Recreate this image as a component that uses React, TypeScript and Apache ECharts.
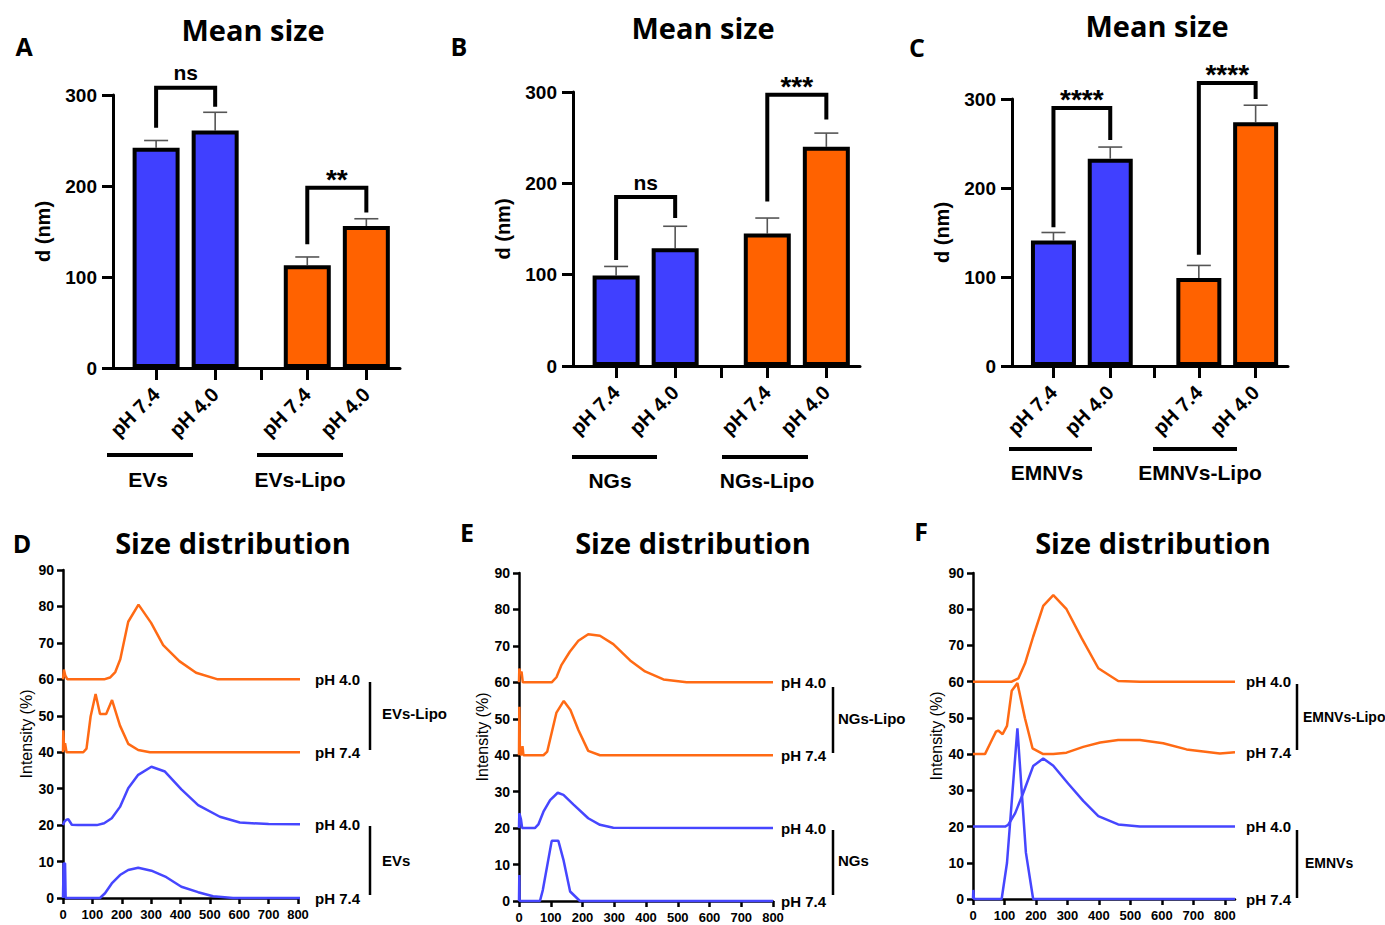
import React, { useEffect, useRef } from 'react';
import * as echarts from 'echarts';

const BLUE = '#4040ff';
const ORANGE = '#ff6200';
const LBLUE = '#4646ff';
const LORANGE = '#ff6a14';
const AX = 'Liberation Sans, Arial, sans-serif';
const TF = 'Open Sans, sans-serif';

// ---- Bar panels (A, B, C) ----
const barLabels = ['pH 7.4', 'pH 4.0', 'pH 7.4', 'pH 4.0'];
const barPos = [0.73, 1.73, 3.29, 4.29];
const sepPos = 2.51;
const barMax = 4.86;

const meanA = [242, 261, 113, 156];
const sdA = [8, 20, 9, 8];
const meanB = [99, 129, 145, 240];
const sdB = [10, 24, 17, 15];
const meanC = [141, 233, 99, 274];
const sdC = [9, 13, 14, 19];

// [fromBar, toBar, top, leftLegEnd, rightLegEnd]
const sigA = [[0, 1, 308, 264, 287], [2, 3, 198, 136, 171]];
const sigAText = ['ns', '**'];
const sigB = [[0, 1, 185, 116, 162], [2, 3, 297, 180, 270]];
const sigBText = ['ns', '***'];
const sigC = [[0, 1, 290, 156, 254], [2, 3, 318, 125, 300]];
const sigCText = ['****', '****'];

const groupsA = ['EVs', 'EVs-Lipo'];
const groupsB = ['NGs', 'NGs-Lipo'];
const groupsC = ['EMNVs', 'EMNVs-Lipo'];

// ---- Size distributions (D, E, F), values as plotted (offset baselines 60/40/20/0) ----
const dO40 = [[0,60],[3,62.7],[8,61],[15,60],[140,60],[160,60.5],[178,62],[195,65.5],[222,75.8],[257,80.5],[300,75.5],[341,69.4],[396,65],[453,61.8],[527,60],[820,60]];
const dO74 = [[0,40],[1,46],[4,40.5],[7,42.5],[12,40],[69,40],[80,41],[94,49.8],[111,56],[126,50.5],[147,50.5],[167,54.3],[194,47.3],[222,42.3],[256,40.6],[296,40],[820,40]];
const dB40 = [[0,20],[5,21],[12,21.5],[18,21.6],[23,21],[30,20.1],[50,20],[115,20],[140,20.5],[166,21.9],[194,25],[222,30.1],[256,33.8],[301,36],[347,34.7],[403,29.8],[460,25.5],[534,22.3],[602,20.7],[700,20.3],[820,20.2]];
const dB74 = [[0,0],[2,9.5],[7,9.5],[9,0],[126,0],[143,1.3],[166,4],[194,6.3],[222,7.7],[256,8.3],[301,7.5],[352,5.7],[403,3.1],[460,1.6],[511,0.5],[579,0],[820,0]];

const eO40 = [[0,60],[1,63.8],[4,62.5],[8,62.9],[12,60],[103,60],[118,61.4],[134,64.8],[160,68.4],[187,71.4],[218,73.2],[255,72.8],[297,70.5],[350,66],[397,63],[455,60.8],[528,60],[800,60]];
const eO74 = [[0,40],[1,53.3],[3,40.5],[8,40],[11,42.5],[14,40],[77,40],[89,41],[118,51.7],[141,54.9],[162,52.4],[187,46.9],[218,41.2],[255,40],[800,40]];
const eB40 = [[0,20],[1,24.1],[6,22.5],[10,20],[50,20],[61,21],[77,24.5],[98,27.7],[122,29.7],[140,29.1],[171,26.5],[218,22.7],[255,20.9],[297,20.1],[800,20]];
const eB74 = [[0,0],[1,7.1],[2,0],[66,0],[75,3],[103,16.5],[124,16.5],[140,11.3],[161,2.6],[192,0],[800,0]];

const fO40 = [[0,60],[123,60],[144,60.9],[165,65],[191,72.4],[223,80.9],[255,83.9],[297,80],[345,72],[398,63.7],[461,60.2],[530,60],[832,60]];
const fO74 = [[0,40],[38,40],[56,43.2],[73,46.2],[80,46.5],[94,45.5],[108,47.8],[123,57.5],[141,59.6],[165,49.9],[189,41.6],[223,40],[255,40],[297,40.4],[350,42],[404,43.2],[461,43.9],[530,43.9],[604,43],[678,41.3],[784,40.2],[832,40.5]];
const fB40 = [[0,20],[102,20],[112,20.5],[134,23.7],[161,29.6],[191,36.7],[223,38.8],[255,36.8],[302,31.9],[350,27.1],[398,22.9],[461,20.6],[530,20],[832,20]];
const fB74 = [[0,0],[1,2.5],[3,0],[91,0],[108,10],[141,47.1],[168,12.8],[191,0],[832,0]];

const curveLabels = ['pH 4.0', 'pH 7.4', 'pH 4.0', 'pH 7.4'];
const distTicks = [0, 100, 200, 300, 400, 500, 600, 700, 800];

export default function App() {
  const ref = useRef<HTMLDivElement>(null);
  useEffect(() => {
    const chart = echarts.init(ref.current!, undefined, { renderer: 'svg' });

    const barGrids = [
      { left: 113, top: 95, width: 287, height: 273 },
      { left: 573, top: 92, width: 287, height: 274 },
      { left: 1012, top: 99, width: 276, height: 267 },
    ];
    const lineGrids = [
      { left: 63, top: 570, width: 235, height: 328 },
      { left: 519, top: 573, width: 254, height: 328 },
      { left: 973, top: 573, width: 262, height: 326 },
    ];
    const grids = [...barGrids, ...lineGrids].map((g) => ({ ...g, containLabel: false, outerBoundsMode: 'none' }));

    const xAxes: any[] = [];
    const yAxes: any[] = [];
    const series: any[] = [];

    const means = [meanA, meanB, meanC];
    const sds = [sdA, sdB, sdC];
    const sigs = [sigA, sigB, sigC];
    const sigTexts = [sigAText, sigBText, sigCText];
    const barW = [47, 47, 45];

    for (let p = 0; p < 3; p++) {
      xAxes.push({
        gridIndex: p, type: 'value', min: 0, max: barMax,
        axisLine: { show: true, onZero: false, lineStyle: { color: '#000', width: 3 } },
        axisTick: { show: true, customValues: [...barPos, sepPos], length: 12, lineStyle: { color: '#000', width: 3 } },
        axisLabel: {
          customValues: barPos, rotate: 45, margin: 23,
          formatter: (v: number) => {
            let best = 0;
            barPos.forEach((b, i) => { if (Math.abs(b - v) < Math.abs(barPos[best] - v)) best = i; });
            return barLabels[best];
          },
          fontSize: 20, fontWeight: 'bold', color: '#000', fontFamily: AX,
        },
        splitLine: { show: false },
      });
      yAxes.push({
        gridIndex: p, type: 'value', min: 0, max: 300, interval: 100,
        axisLine: { show: true, lineStyle: { color: '#000', width: 3 } },
        axisTick: { show: true, length: 11, lineStyle: { color: '#000', width: 3 } },
        axisLabel: { margin: 16, fontSize: 19, fontWeight: 'bold', color: '#000', fontFamily: AX },
        splitLine: { show: false },
        name: 'd (nm)', nameLocation: 'middle', nameGap: 60, nameRotate: 90,
        nameTextStyle: { fontSize: 20, fontWeight: 'bold', color: '#000', fontFamily: AX },
      });
      const m = means[p], s = sds[p];
      series.push({
        type: 'bar', xAxisIndex: p, yAxisIndex: p, barWidth: barW[p],
        data: barPos.map((x, i) => ({ value: [x, m[i]], itemStyle: { color: i < 2 ? BLUE : ORANGE } })),
        itemStyle: { borderColor: '#000', borderWidth: 4 },
        z: 3,
      });
      series.push({
        type: 'custom', xAxisIndex: p, yAxisIndex: p, clip: false, z: 2,
        encode: { x: 0, y: [1, 2] },
        data: barPos.map((x, i) => [x, m[i], m[i] + s[i]]),
        renderItem: (params: any, api: any) => {
          const x = api.value(0);
          const p0 = api.coord([x, api.value(1)]);
          const p1 = api.coord([x, api.value(2)]);
          const hw = 12;
          return {
            type: 'group', children: [
              { type: 'line', shape: { x1: p0[0], y1: p0[1], x2: p1[0], y2: p1[1] }, style: { stroke: '#555', lineWidth: 1.6 } },
              { type: 'line', shape: { x1: p1[0] - hw, y1: p1[1], x2: p1[0] + hw, y2: p1[1] }, style: { stroke: '#555', lineWidth: 1.6 } },
            ],
          };
        },
      });
      const sg = sigs[p], st = sigTexts[p];
      series.push({
        type: 'custom', xAxisIndex: p, yAxisIndex: p, clip: false, z: 4,
        encode: { x: [0, 1], y: [2, 3, 4] },
        data: sg.map((b) => [barPos[b[0]], barPos[b[1]], b[2], b[3], b[4]]),
        renderItem: (params: any, api: any) => {
          const x1 = api.value(0), x2 = api.value(1), top = api.value(2);
          const a = api.coord([x1, api.value(3)]);
          const b = api.coord([x1, top]);
          const c = api.coord([x2, top]);
          const d = api.coord([x2, api.value(4)]);
          const txt = st[params.dataIndex];
          const isStar = txt.indexOf('*') >= 0;
          return {
            type: 'group', children: [
              { type: 'polyline', shape: { points: [a, b, c, d] }, style: { stroke: '#000', lineWidth: 4, fill: null, lineJoin: 'miter' } },
              {
                type: 'text', x: (b[0] + c[0]) / 2, y: isStar ? b[1] - 8 : b[1] - 15,
                style: { text: txt, fill: '#000', font: `bold ${isStar ? 28 : 21}px ${AX}`, align: 'center', verticalAlign: 'middle' },
              },
            ],
          };
        },
      });
    }

    const curves = [[dO40, dO74, dB40, dB74], [eO40, eO74, eB40, eB74], [fO40, fO74, fB40, fB74]];
    const xMaxes = [800, 800, 832];
    const endDist = [15, 8, 11];
    for (let q = 0; q < 3; q++) {
      const gi = 3 + q;
      xAxes.push({
        gridIndex: gi, type: 'value', min: 0, max: xMaxes[q],
        axisLine: { show: true, lineStyle: { color: '#000', width: 2.5 } },
        axisTick: { show: true, customValues: distTicks, length: 6, lineStyle: { color: '#000', width: 2.5 } },
        axisLabel: { customValues: distTicks, margin: 10, fontSize: 13, fontWeight: 'bold', color: '#000', fontFamily: AX },
        splitLine: { show: false },
      });
      yAxes.push({
        gridIndex: gi, type: 'value', min: 0, max: 90, interval: 10,
        axisLine: { show: true, lineStyle: { color: '#000', width: 2.5 } },
        axisTick: { show: true, length: 6, lineStyle: { color: '#000', width: 2.5 } },
        axisLabel: { margin: 9, fontSize: 14, fontWeight: 'bold', color: '#000', fontFamily: AX },
        splitLine: { show: false },
        name: 'Intensity (%)', nameLocation: 'middle', nameGap: 28, nameRotate: 90,
        nameTextStyle: { fontSize: 16, color: '#000', fontFamily: AX },
      });
      curves[q].forEach((dat, k) => {
        series.push({
          type: 'line', xAxisIndex: gi, yAxisIndex: gi, data: dat, showSymbol: false, symbol: 'none',
          clip: false, smooth: false,
          lineStyle: { width: 2.5, color: k < 2 ? LORANGE : LBLUE },
          itemStyle: { color: k < 2 ? LORANGE : LBLUE },
          endLabel: {
            show: true, formatter: curveLabels[k], distance: endDist[q],
            color: '#000', fontWeight: 'bold', fontSize: 15, fontFamily: AX,
          },
          z: 5,
        });
      });
    }

    const T = (x: number, y: number, text: string, font: string, align = 'center') => ({
      type: 'text', x, y, style: { text, font, fill: '#000', align, verticalAlign: 'middle' },
    });
    const L = (x1: number, y1: number, x2: number, y2: number, w: number) => ({
      type: 'line', shape: { x1, y1, x2, y2 }, style: { stroke: '#000', lineWidth: w },
    });
    const titleFont = `bold 29px ${TF}`;
    const letterFont = `bold 25px ${TF}`;
    const grpFont = `bold 21px ${AX}`;
    const sideFont = `bold 15px ${AX}`;
    const graphic: any[] = [
      T(253, 29, 'Mean size', titleFont), T(703, 27, 'Mean size', titleFont), T(1157, 25, 'Mean size', titleFont),
      T(24, 46, 'A', letterFont), T(459, 46, 'B', letterFont), T(917, 47, 'C', letterFont),
      T(233, 542, 'Size distribution', titleFont), T(693, 542, 'Size distribution', titleFont), T(1153, 542, 'Size distribution', titleFont),
      T(22, 543, 'D', letterFont), T(467, 532, 'E', letterFont), T(921, 531, 'F', letterFont),
      L(107, 455, 193, 455, 4), L(257, 455, 343, 455, 4), T(148, 479, groupsA[0], grpFont), T(300, 479, groupsA[1], grpFont),
      L(572, 457, 657, 457, 4), L(722, 457, 808, 457, 4), T(610, 480, groupsB[0], grpFont), T(767, 480, groupsB[1], grpFont),
      L(1009, 449, 1092, 449, 4), L(1153, 449, 1237, 449, 4), T(1047, 472, groupsC[0], grpFont), T(1200, 472, groupsC[1], grpFont),
      L(370, 682, 370, 750, 2.5), L(370, 826, 370, 895, 2.5), T(382, 713, groupsA[1], sideFont, 'left'), T(382, 860, groupsA[0], sideFont, 'left'),
      L(833, 687, 833, 753, 2.5), L(833, 830, 833, 895, 2.5), T(838, 718, groupsB[1], sideFont, 'left'), T(838, 860, groupsB[0], sideFont, 'left'),
      L(1297, 684, 1297, 750, 2.5), L(1297, 830, 1297, 898, 2.5), T(1303, 717, groupsC[1], `bold 14px ${AX}`, 'left'), T(1305, 863, groupsC[0], `bold 14px ${AX}`, 'left'),
    ];

    chart.setOption({
      animation: false,
      backgroundColor: '#fff',
      grid: grids,
      xAxis: xAxes,
      yAxis: yAxes,
      series,
      graphic,
    });
    return () => chart.dispose();
  }, []);
  return <div ref={ref} style={{ position: 'absolute', left: 0, top: 0, width: 1385, height: 925, background: '#fff' }} />;
}
